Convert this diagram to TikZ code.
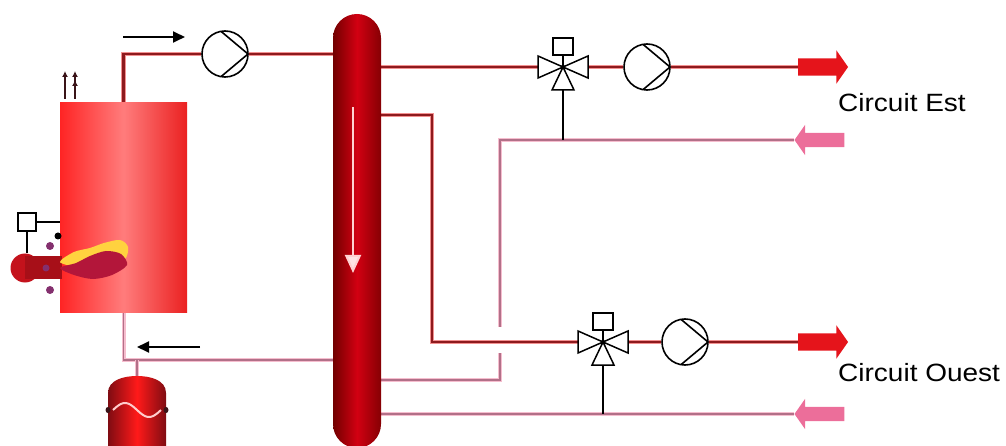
\documentclass[tikz,border=0pt]{standalone}
\usepackage{fontspec}
\setmainfont{Liberation Sans}
\usetikzlibrary{arrows.meta,shapes.arrows,backgrounds}

\definecolor{pipehot}{HTML}{8E1A1E}
\definecolor{pipehotglow}{HTML}{F29090}
\definecolor{pipecold}{HTML}{B27088}
\definecolor{pipecoldglow}{HTML}{F6BDCE}
\definecolor{boilred}{HTML}{FF2424}
\definecolor{boilpink}{HTML}{FF7C7C}
\definecolor{sepdark}{HTML}{720000}
\definecolor{sepred}{HTML}{D20012}
\definecolor{arrowhot}{HTML}{E5141B}
\definecolor{arrowcold}{HTML}{EC6E9A}
\definecolor{flamered}{HTML}{B3163A}
\definecolor{flameyellow}{HTML}{FFD23F}
\definecolor{burnerred}{HTML}{C4121C}
\definecolor{burnerpurple}{HTML}{84306E}
\definecolor{fluedark}{HTML}{3A1418}

\tikzset{
  hotpipe/.style={draw=pipehotglow, line width=1.2pt, double=pipehot, double distance=2.4pt},
  coldpipe/.style={draw=pipecoldglow, line width=1.1pt, double=pipecold, double distance=1.8pt},
  stem/.style={draw=black, line width=1.8pt},
  pump/.style={circle, draw, line width=1.6pt, fill=white, minimum size=46pt, inner sep=0pt,
    path picture={\draw[line width=1.6pt]
      ([shift={(100:23pt)}]path picture bounding box.center) -- (path picture bounding box.east)
      -- ([shift={(260:23pt)}]path picture bounding box.center);}},
  valve/.style={rectangle, minimum width=50pt, minimum height=46pt, inner sep=0pt},
  valvesym/.style={draw=black, fill=white, line width=1.5pt},
  hotarrow/.style={single arrow, fill=arrowhot, draw=none, inner xsep=0pt, inner ysep=8.5pt,
    minimum height=50pt, single arrow head extend=8pt, single arrow tip angle=110},
  coldarrow/.style={single arrow, fill=arrowcold, draw=none, inner xsep=0pt, inner ysep=7pt,
    minimum height=50pt, single arrow head extend=8pt, single arrow tip angle=110,
    shape border rotate=180},
  flowarrow/.style={line width=1.8pt, -{Triangle[length=12pt,width=11pt]}},
  flue/.style={draw=fluedark, line width=2.4pt, -{Latex[length=6pt,width=6pt]}},
  lbl/.style={anchor=base west, inner sep=0pt, font=\fontsize{25}{30}\selectfont,
    xscale=1.12, transform shape}
}

% three-way valve drawn on a valve node
\newcommand{\threeway}[1]{%
  \draw[valvesym] (#1.center) -- ++(-25,-11) -- ++(0,22) -- cycle
                  (#1.center) -- ++(25,-11) -- ++(0,22) -- cycle
                  (#1.center) -- ++(-11,23) -- ++(22,0) -- cycle;
  \draw[valvesym] (#1.center) -- ++(0,-12) ++(-10,0) rectangle ++(20,-17);
  \fill (#1.center) circle (2.2pt);
}

\begin{document}
\begin{tikzpicture}[x=1pt, y=-1pt]
        \useasboundingbox (0,0) rectangle (1006,446);

        % Boiler and hydraulic separator
        \node at (123.5,207.5) (boiler) [rectangle, minimum width=127pt, minimum height=209pt,
            left color=boilred, right color=boilred!92!black, middle color=boilpink] {};
        \node at (357,231) (sep) [rectangle, rounded corners=24pt, minimum width=48pt,
            minimum height=434pt, left color=sepdark, right color=sepdark!80!sepred, middle color=sepred] {};

        % Pumps
        \node at (225,54) (pump0) [pump] {};
        \node at (647,67) (pumpE) [pump] {};
        \node at (685,342) (pumpO) [pump] {};

        % Valves
        \node at (563,67) (valveE) [valve] {};
        \node at (603,342) (valveO) [valve] {};
        \threeway{valveE}
        \threeway{valveO}

        % Circuit arrows
        \node at (820,67) (arrE) [hotarrow] {};
        \node at (822,140) (retE) [coldarrow] {};
        \node at (820,342) (arrO) [hotarrow] {};
        \node at (822,414) (retO) [coldarrow] {};

        \node at (838,112) (lblE) [lbl] {Circuit Est};
        \node at (838,381) (lblO) [lbl] {Circuit Ouest};

        % Pipe corners
        \coordinate (bret) at (123.5,360);
        \coordinate (vjoin) at (137,360);
        \coordinate (vtop) at (137,377);
        \coordinate (sO1) at (432,115);
        \coordinate (sO2) at (432,342);
        \coordinate (rE1) at (500,140);
        \coordinate (rE2) at (500,327);
        \coordinate (rE3) at (500,353);
        \coordinate (rE4) at (500,380);

        % Pipes
        \begin{scope}[on background layer]
        \draw[hotpipe] (boiler.north) |- (pump0);
        \draw[hotpipe] (pump0) -- (pump0 -| sep.west);
        \draw[coldpipe] (sep.west |- bret) -- (bret) -- (boiler.south);
        \draw[coldpipe] (vjoin) -- (vtop);

        \draw[hotpipe] (valveE -| sep.east) -- (valveE);
        \draw[hotpipe] (valveE) -- (pumpE);
        \draw[hotpipe] (pumpE) -- (arrE.tail);
        \draw[hotpipe] (sO1 -| sep.east) -- (sO1) -- (sO2) -- (valveO);
        \draw[hotpipe] (valveO) -- (pumpO);
        \draw[hotpipe] (pumpO) -- (arrO.tail);

        \draw[coldpipe] (retE.tip) -- (rE1) -- (rE2);
        \draw[coldpipe] (rE3) -- (rE4) -- (rE4 -| sep.east);
        \draw[coldpipe] (retO.tip) -- (retO -| sep.east);
        \end{scope}

        % Valve stems to the return lines
        \draw[stem] (valveE.south) -- (valveE.south |- retE);
        \draw[stem] (valveO.south) -- (valveO.south |- retO);

        % Flow in the separator
        \draw[line width=2pt, draw=pink!70, -{Triangle[length=18pt,width=16pt,fill=pink!40]}] (353,107) -- (353,273);

        % Flow direction at the boiler
        \draw[flowarrow] (123,37) -- (185,37);
        \draw[flowarrow] (200,347) -- (137,347);

        % Flue gas
        \draw[flue] (65,99) -- (65,71);
        \draw[flue] (75,99) -- (75,71);
        \draw[flue] (65,90) -- (65,80) (75,90) -- (75,80);

        % Expansion vessel
        \shade[left color=burnerred!65!black, right color=burnerred!65!black, middle color=red!90!white]
            (108,452) -- (108,393) to[out=90, in=180] (137,376) to[out=0, in=90] (166,393) -- (166,452) -- cycle;
        \fill[fluedark] (108,410) ellipse (2.5pt and 3pt) (166,410) ellipse (2.5pt and 3pt);
        \draw[line width=2pt, pink!80] plot[domain=0:1, samples=30] ({113+48*\x}, {410-7*sin(360*\x)});

        % Burner
        \node at (27,222) (burnctrl) [rectangle, draw, line width=1.5pt, fill=white, minimum size=18pt, inner sep=0pt] {};
        \node at (25,268) (burner) [circle, fill=burnerred, minimum size=29pt, inner sep=0pt] {};
        \draw[line width=1.5pt] (burnctrl) -- (burnctrl -| boiler.west);
        \draw[line width=1.5pt] (burnctrl.south) -- (burnctrl.south |- burner.north);
        \fill[burnerred!85!black] (25,256) rectangle (62,279);
        \fill[burnerpurple] (50,246) circle (4pt) (50,290) circle (4pt) (46,268) circle (3.5pt);
        \fill[black] (58,236) circle (3.5pt);

        % Flame
        \fill[flameyellow] plot[smooth cycle] coordinates {(60,262) (74,252) (90,248) (104,243) (120,240) (128,247) (124,260) (100,266) (78,267)};
        \fill[flamered] plot[smooth cycle] coordinates {(60,268) (76,263) (90,256) (106,251) (121,254) (127,265) (112,275) (93,279) (74,275)};
    \end{tikzpicture}
\end{document}
